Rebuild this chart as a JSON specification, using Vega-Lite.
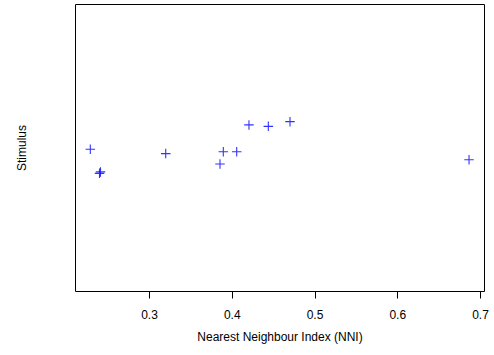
{
  "$schema": "https://vega.github.io/schema/vega-lite/v6.json",
  "width": 409,
  "height": 287,
  "autosize": {"type": "none"},
  "padding": {"left": 75, "top": 4, "right": 10, "bottom": 64},
  "background": "white",
  "config": {
    "view": {"stroke": "#000000", "strokeWidth": 1},
    "font": "Liberation Sans"
  },
  "data": {
    "values": [
      {"nni": 0.2291, "stim": 0.995},
      {"nni": 0.2402, "stim": 0.928},
      {"nni": 0.2414, "stim": 0.932},
      {"nni": 0.3202, "stim": 0.983},
      {"nni": 0.3858, "stim": 0.954},
      {"nni": 0.3898, "stim": 0.988},
      {"nni": 0.4060, "stim": 0.988},
      {"nni": 0.4208, "stim": 1.063},
      {"nni": 0.4442, "stim": 1.059},
      {"nni": 0.4704, "stim": 1.072},
      {"nni": 0.6867, "stim": 0.966}
    ]
  },
  "mark": {
    "type": "point",
    "shape": "M-1,0L1,0M0,-1L0,1",
    "filled": false,
    "stroke": "#0000ff",
    "strokeWidth": 1.1,
    "opacity": 0.8,
    "size": 90
  },
  "encoding": {
    "x": {
      "field": "nni",
      "type": "quantitative",
      "scale": {"domain": [0.2106, 0.7048], "nice": false, "zero": false},
      "axis": {
        "title": "Nearest Neighbour Index (NNI)",
        "values": [0.3, 0.4, 0.5, 0.6, 0.7],
        "format": ".1f",
        "grid": false,
        "domain": false,
        "tickColor": "#000000",
        "tickSize": 7,
        "labelFontSize": 12,
        "labelColor": "#000000",
        "labelPadding": 11,
        "titleFontSize": 12,
        "titleFontWeight": "normal",
        "titleColor": "#000000",
        "titlePadding": 11
      }
    },
    "y": {
      "field": "stim",
      "type": "quantitative",
      "scale": {"domain": [0.6, 1.4], "nice": false, "zero": false},
      "axis": {
        "title": "Stimulus",
        "labels": false,
        "ticks": false,
        "domain": false,
        "grid": false,
        "titleFontSize": 12,
        "titleFontWeight": "normal",
        "titleColor": "#000000",
        "titlePadding": 47
      }
    }
  }
}
